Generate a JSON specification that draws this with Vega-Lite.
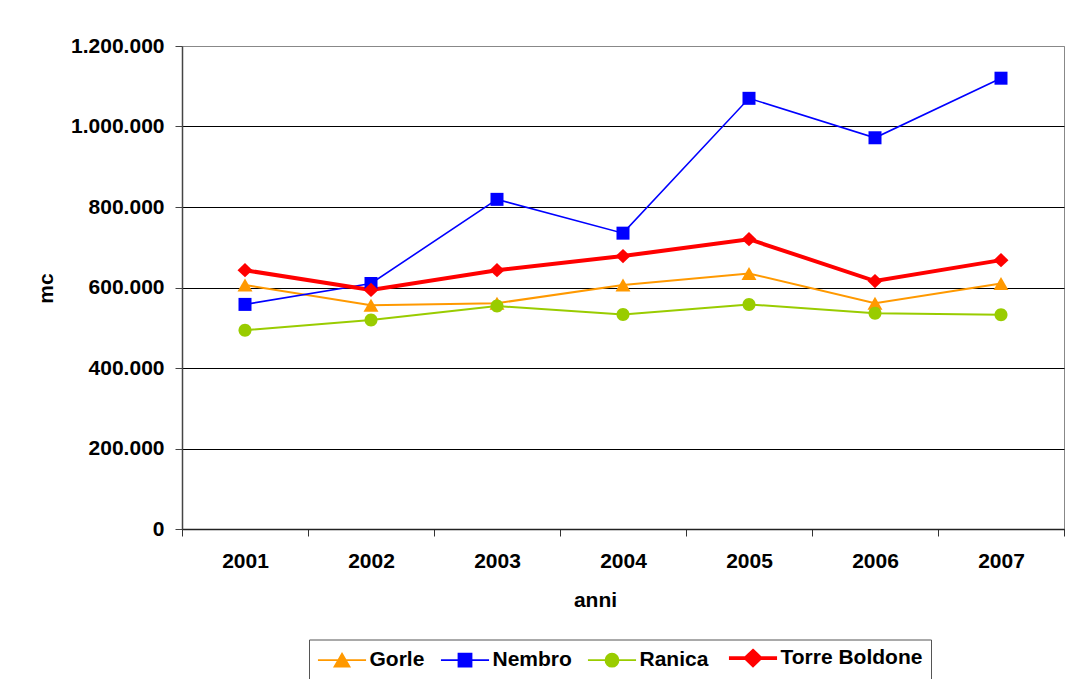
{
  "$schema": "https://vega.github.io/schema/vega-lite/v6.json",
  "autosize": {"type": "none"},
  "padding": {"left": 182, "top": 46, "right": 5, "bottom": 150},
  "width": 882,
  "height": 483,
  "background": "white",
  "data": {"values": [
    {"anno": "2001", "comune": "Gorle", "mc": 606000},
    {"anno": "2002", "comune": "Gorle", "mc": 556000},
    {"anno": "2003", "comune": "Gorle", "mc": 561000},
    {"anno": "2004", "comune": "Gorle", "mc": 606000},
    {"anno": "2005", "comune": "Gorle", "mc": 635000},
    {"anno": "2006", "comune": "Gorle", "mc": 561000},
    {"anno": "2007", "comune": "Gorle", "mc": 610000},
    {"anno": "2001", "comune": "Nembro", "mc": 558000},
    {"anno": "2002", "comune": "Nembro", "mc": 610000},
    {"anno": "2003", "comune": "Nembro", "mc": 819000},
    {"anno": "2004", "comune": "Nembro", "mc": 735000},
    {"anno": "2005", "comune": "Nembro", "mc": 1070000},
    {"anno": "2006", "comune": "Nembro", "mc": 972000},
    {"anno": "2007", "comune": "Nembro", "mc": 1120000},
    {"anno": "2001", "comune": "Ranica", "mc": 494000},
    {"anno": "2002", "comune": "Ranica", "mc": 519000},
    {"anno": "2003", "comune": "Ranica", "mc": 554000},
    {"anno": "2004", "comune": "Ranica", "mc": 533000},
    {"anno": "2005", "comune": "Ranica", "mc": 558000},
    {"anno": "2006", "comune": "Ranica", "mc": 536000},
    {"anno": "2007", "comune": "Ranica", "mc": 532000},
    {"anno": "2001", "comune": "Torre Boldone", "mc": 643000},
    {"anno": "2002", "comune": "Torre Boldone", "mc": 594000},
    {"anno": "2003", "comune": "Torre Boldone", "mc": 643000},
    {"anno": "2004", "comune": "Torre Boldone", "mc": 678000},
    {"anno": "2005", "comune": "Torre Boldone", "mc": 720000},
    {"anno": "2006", "comune": "Torre Boldone", "mc": 616000},
    {"anno": "2007", "comune": "Torre Boldone", "mc": 668000}
  ]},
  "encoding": {
    "x": {
      "field": "anno", "type": "ordinal",
      "scale": {"type": "band", "paddingInner": 0, "paddingOuter": 0},
      "bandPosition": 0.5,
      "axis": {
        "title": "anni", "labelAngle": 0, "tickBand": "extent",
        "domainColor": "#222", "domainWidth": 1.5, "tickColor": "#333", "tickSize": 7,
        "labelPadding": 14, "labelBaseline": "top",
        "titleX": 413, "titleY": 77, "titleBaseline": "alphabetic", "titleAlign": "center",
        "grid": false
      }
    },
    "y": {
      "field": "mc", "type": "quantitative",
      "scale": {"domain": [0, 1200000], "nice": false, "zero": true},
      "axis": {
        "title": "mc", "format": ",d",
        "values": [0, 200000, 400000, 600000, 800000, 1000000, 1200000],
        "domainColor": "#444", "domainWidth": 1.5, "tickColor": "#444", "tickSize": 7,
        "labelPadding": 11,
        "grid": true,
        "gridColor": {"condition": {"test": "datum.value === 1200000", "value": "#888888"}, "value": "#000000"},
        "gridWidth": 1,
        "titleX": -130, "titleY": 242, "titleAngle": -90, "titleBaseline": "alphabetic", "titleAlign": "center"
      }
    }
  },
  "layer": [
    {
      "mark": {"type": "line"},
      "encoding": {
        "color": {"field": "comune", "type": "nominal",
          "scale": {"domain": ["Gorle", "Nembro", "Ranica", "Torre Boldone"], "range": ["#FF9900", "#0000FF", "#99CC00", "#FF0000"]},
          "legend": null},
        "strokeWidth": {"field": "comune", "type": "nominal",
          "scale": {"type": "ordinal", "domain": ["Gorle", "Nembro", "Ranica", "Torre Boldone"], "range": [2, 1.6, 2, 4]},
          "legend": null}
      }
    },
    {
      "mark": {"type": "point", "filled": true, "opacity": 1, "size": 169, "strokeWidth": 0},
      "encoding": {
        "color": {"field": "comune", "type": "nominal",
          "scale": {"domain": ["Gorle", "Nembro", "Ranica", "Torre Boldone"], "range": ["#FF9900", "#0000FF", "#99CC00", "#FF0000"]},
          "legend": null},
        "shape": {"field": "comune", "type": "nominal",
          "scale": {"domain": ["Gorle", "Nembro", "Ranica", "Torre Boldone"], "range": [
            "M0,-1L1.15,1L-1.15,1Z",
            "M-1,-1H1V1H-1Z",
            "M-1,0A1,1,0,1,0,1,0A1,1,0,1,0,-1,0Z",
            "M0,-1.1L1.15,0L0,1.1L-1.15,0Z"
          ]},
          "legend": null}
      }
    },
    {
      "mark": {"type": "point", "opacity": 0, "size": 169},
      "encoding": {
        "fill": {"field": "comune", "type": "nominal",
          "scale": {"domain": ["Gorle", "Nembro", "Ranica", "Torre Boldone"], "range": ["#FF9900", "#0000FF", "#99CC00", "#FF0000"]},
          "legend": {"orient": "none", "legendX": 127, "legendY": 593.5, "direction": "horizontal", "title": null, "symbolOpacity": 1}},
        "stroke": {"field": "comune", "type": "nominal",
          "scale": {"domain": ["Gorle", "Nembro", "Ranica", "Torre Boldone"], "range": ["#FF9900", "#0000FF", "#99CC00", "#FF0000"]},
          "legend": {"orient": "none", "legendX": 127, "legendY": 593.5, "direction": "horizontal", "title": null, "symbolOpacity": 1}},
        "shape": {"field": "comune", "type": "nominal",
          "scale": {"domain": ["Gorle", "Nembro", "Ranica", "Torre Boldone"], "range": [
            "M-3.7,0H3.7M0,-1L1.15,1L-1.15,1Z",
            "M-3.7,0H3.7M-1,-1H1V1H-1Z",
            "M-3.7,0H3.7M-1,0A1,1,0,1,0,1,0A1,1,0,1,0,-1,0Z",
            "M-3.7,0H3.7M0,-1.1L1.15,0L0,1.1L-1.15,0Z"
          ]},
          "legend": {"orient": "none", "legendX": 127, "legendY": 593.5, "direction": "horizontal", "title": null, "symbolOpacity": 1}},
        "strokeWidth": {"field": "comune", "type": "nominal",
          "scale": {"type": "ordinal", "domain": ["Gorle", "Nembro", "Ranica", "Torre Boldone"], "range": [1.8, 1.8, 1.8, 3.6]},
          "legend": {"orient": "none", "legendX": 127, "legendY": 593.5, "direction": "horizontal", "title": null, "symbolOpacity": 1}}
      }
    }
  ],
  "resolve": {"scale": {"shape": "independent", "strokeWidth": "independent", "fill": "independent", "stroke": "independent"}},
  "config": {
    "locale": {"number": {"decimal": ",", "thousands": ".", "grouping": [3], "currency": ["", " €"]}},
    "font": "Liberation Sans",
    "view": {"stroke": "#888888", "strokeWidth": 1},
    "axis": {
      "labelFont": "Liberation Sans", "labelFontSize": 21, "labelFontWeight": "bold", "labelColor": "#000000",
      "titleFont": "Liberation Sans", "titleFontSize": 21, "titleFontWeight": "bold", "titleColor": "#000000"
    },
    "legend": {
      "padding": 8, "strokeColor": "#555555", "fillColor": "#ffffff",
      "labelFont": "Liberation Sans", "labelFontSize": 21, "labelFontWeight": "bold", "labelColor": "#000000",
      "symbolSize": 169, "symbolOffset": 14.5, "labelOffset": 17, "columnPadding": 12
    }
  }
}
